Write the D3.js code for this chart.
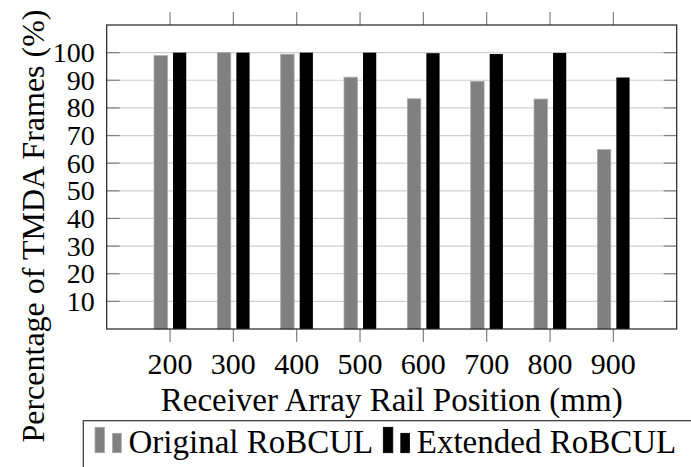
<!DOCTYPE html>
<html>
<head>
<meta charset="utf-8">
<script src="https://cdn.jsdelivr.net/npm/d3@7"></script>
<style>
  body { margin: 0; background: #fff; }
</style>
</head>
<body>
<svg width="691" height="467" font-family="'Liberation Serif', 'DejaVu Serif', serif"></svg>
<script>
// data
const positions = [200, 300, 400, 500, 600, 700, 800, 900];
const original = [98.9, 100, 99.4, 91.1, 83.3, 89.6, 83.2, 64.9];
const extended = [100, 100, 100, 100, 99.8, 99.5, 99.9, 91];
const yTicks = [10, 20, 30, 40, 50, 60, 70, 80, 90, 100];
const seriesNames = ["Original RoBCUL", "Extended RoBCUL"];

const svg = d3.select("svg");

// frame of the plot
const plotL = 106.7, plotR = 676.7, plotT = 25, plotB = 329;

const x = d3.scaleLinear().domain([100, 1000]).range([plotL, plotR]);
const y = d3.scaleLinear().domain([0, 110]).range([plotB, plotT]);

// horizontal grid
svg.append("g").selectAll("line")
  .data(yTicks).enter().append("line")
    .attr("x1", plotL).attr("x2", plotR)
    .attr("y1", d => y(d)).attr("y2", d => y(d))
    .attr("stroke", "#cfcfcf").attr("stroke-width", 1.2);

// bars
const bars = svg.append("g");
bars.selectAll("rect.orig")
  .data(positions).enter().append("rect")
    .attr("class", "orig")
    .attr("x", (d) => x(d) - 16)
    .attr("width", 13.4)
    .attr("y", (d, i) => y(original[i]))
    .attr("height", (d, i) => y(0) - y(original[i]))
    .attr("fill", "#808080")
    .attr("stroke", "#a8a8a8").attr("stroke-width", 0.8);

bars.selectAll("rect.ext")
  .data(positions).enter().append("rect")
    .attr("class", "ext")
    .attr("x", (d) => x(d) + 3)
    .attr("width", 13.2)
    .attr("y", (d, i) => y(extended[i]))
    .attr("height", (d, i) => y(0) - y(extended[i]))
    .attr("fill", "#000");

// y ticks inside, both sides
const ticks = svg.append("g").attr("stroke", "#808080").attr("stroke-width", 1.2);
yTicks.forEach(t => {
  ticks.append("line").attr("x1", plotL).attr("x2", plotL + 13).attr("y1", y(t)).attr("y2", y(t));
  ticks.append("line").attr("x1", plotR - 13).attr("x2", plotR).attr("y1", y(t)).attr("y2", y(t));
});
// x ticks outside, top and bottom
positions.forEach(p => {
  ticks.append("line").attr("x1", x(p)).attr("x2", x(p)).attr("y1", plotB).attr("y2", plotB + 13);
  ticks.append("line").attr("x1", x(p)).attr("x2", x(p)).attr("y1", plotT - 13).attr("y2", plotT);
});

// frame
svg.append("rect")
  .attr("x", plotL).attr("y", plotT)
  .attr("width", plotR - plotL).attr("height", plotB - plotT)
  .attr("fill", "none").attr("stroke", "#222").attr("stroke-width", 1.2);

// tick labels
svg.append("g").selectAll("text")
  .data(yTicks).enter().append("text")
    .attr("x", plotL - 12)
    .attr("y", d => y(d) + 9.5)
    .attr("text-anchor", "end")
    .style("font-size", "28px")
    .text(d => d);

svg.append("g").selectAll("text")
  .data(positions).enter().append("text")
    .attr("x", d => x(d))
    .attr("y", 374)
    .attr("text-anchor", "middle")
    .style("font-size", "30px")
    .text(d => d);

// axis titles
svg.append("text")
  .attr("x", (plotL + plotR) / 2).attr("y", 411)
  .attr("text-anchor", "middle")
  .style("font-size", "33px")
  .text("Receiver Array Rail Position (mm)");

svg.append("text")
  .attr("transform", "translate(44,226) rotate(-90)")
  .attr("text-anchor", "middle")
  .style("font-size", "32px")
  .text("Percentage of TMDA Frames (%)");

// legend
const legend = svg.append("g");
legend.append("rect")
  .attr("x", 83.3).attr("y", 420.7)
  .attr("width", 640).attr("height", 80)
  .attr("fill", "#fff").attr("stroke", "#333").attr("stroke-width", 1.2);

const legendX = [95, 383.3];
const legendFill = ["#808080", "#000"];
const legendStroke = ["#a8a8a8", "#000"];
seriesNames.forEach((name, i) => {
  const gx = legendX[i];
  legend.append("rect").attr("x", gx).attr("y", 427.3).attr("width", 9.5).attr("height", 25.4)
    .attr("fill", legendFill[i]).attr("stroke", legendStroke[i]).attr("stroke-width", 0.8);
  legend.append("rect").attr("x", gx + 17.5).attr("y", 433.3).attr("width", 8.8).attr("height", 19.4)
    .attr("fill", legendFill[i]).attr("stroke", legendStroke[i]).attr("stroke-width", 0.8);
  legend.append("text")
    .attr("x", gx + 33.5).attr("y", 453)
    .style("font-size", "33px")
    .text(name);
});
</script>
</body>
</html>
